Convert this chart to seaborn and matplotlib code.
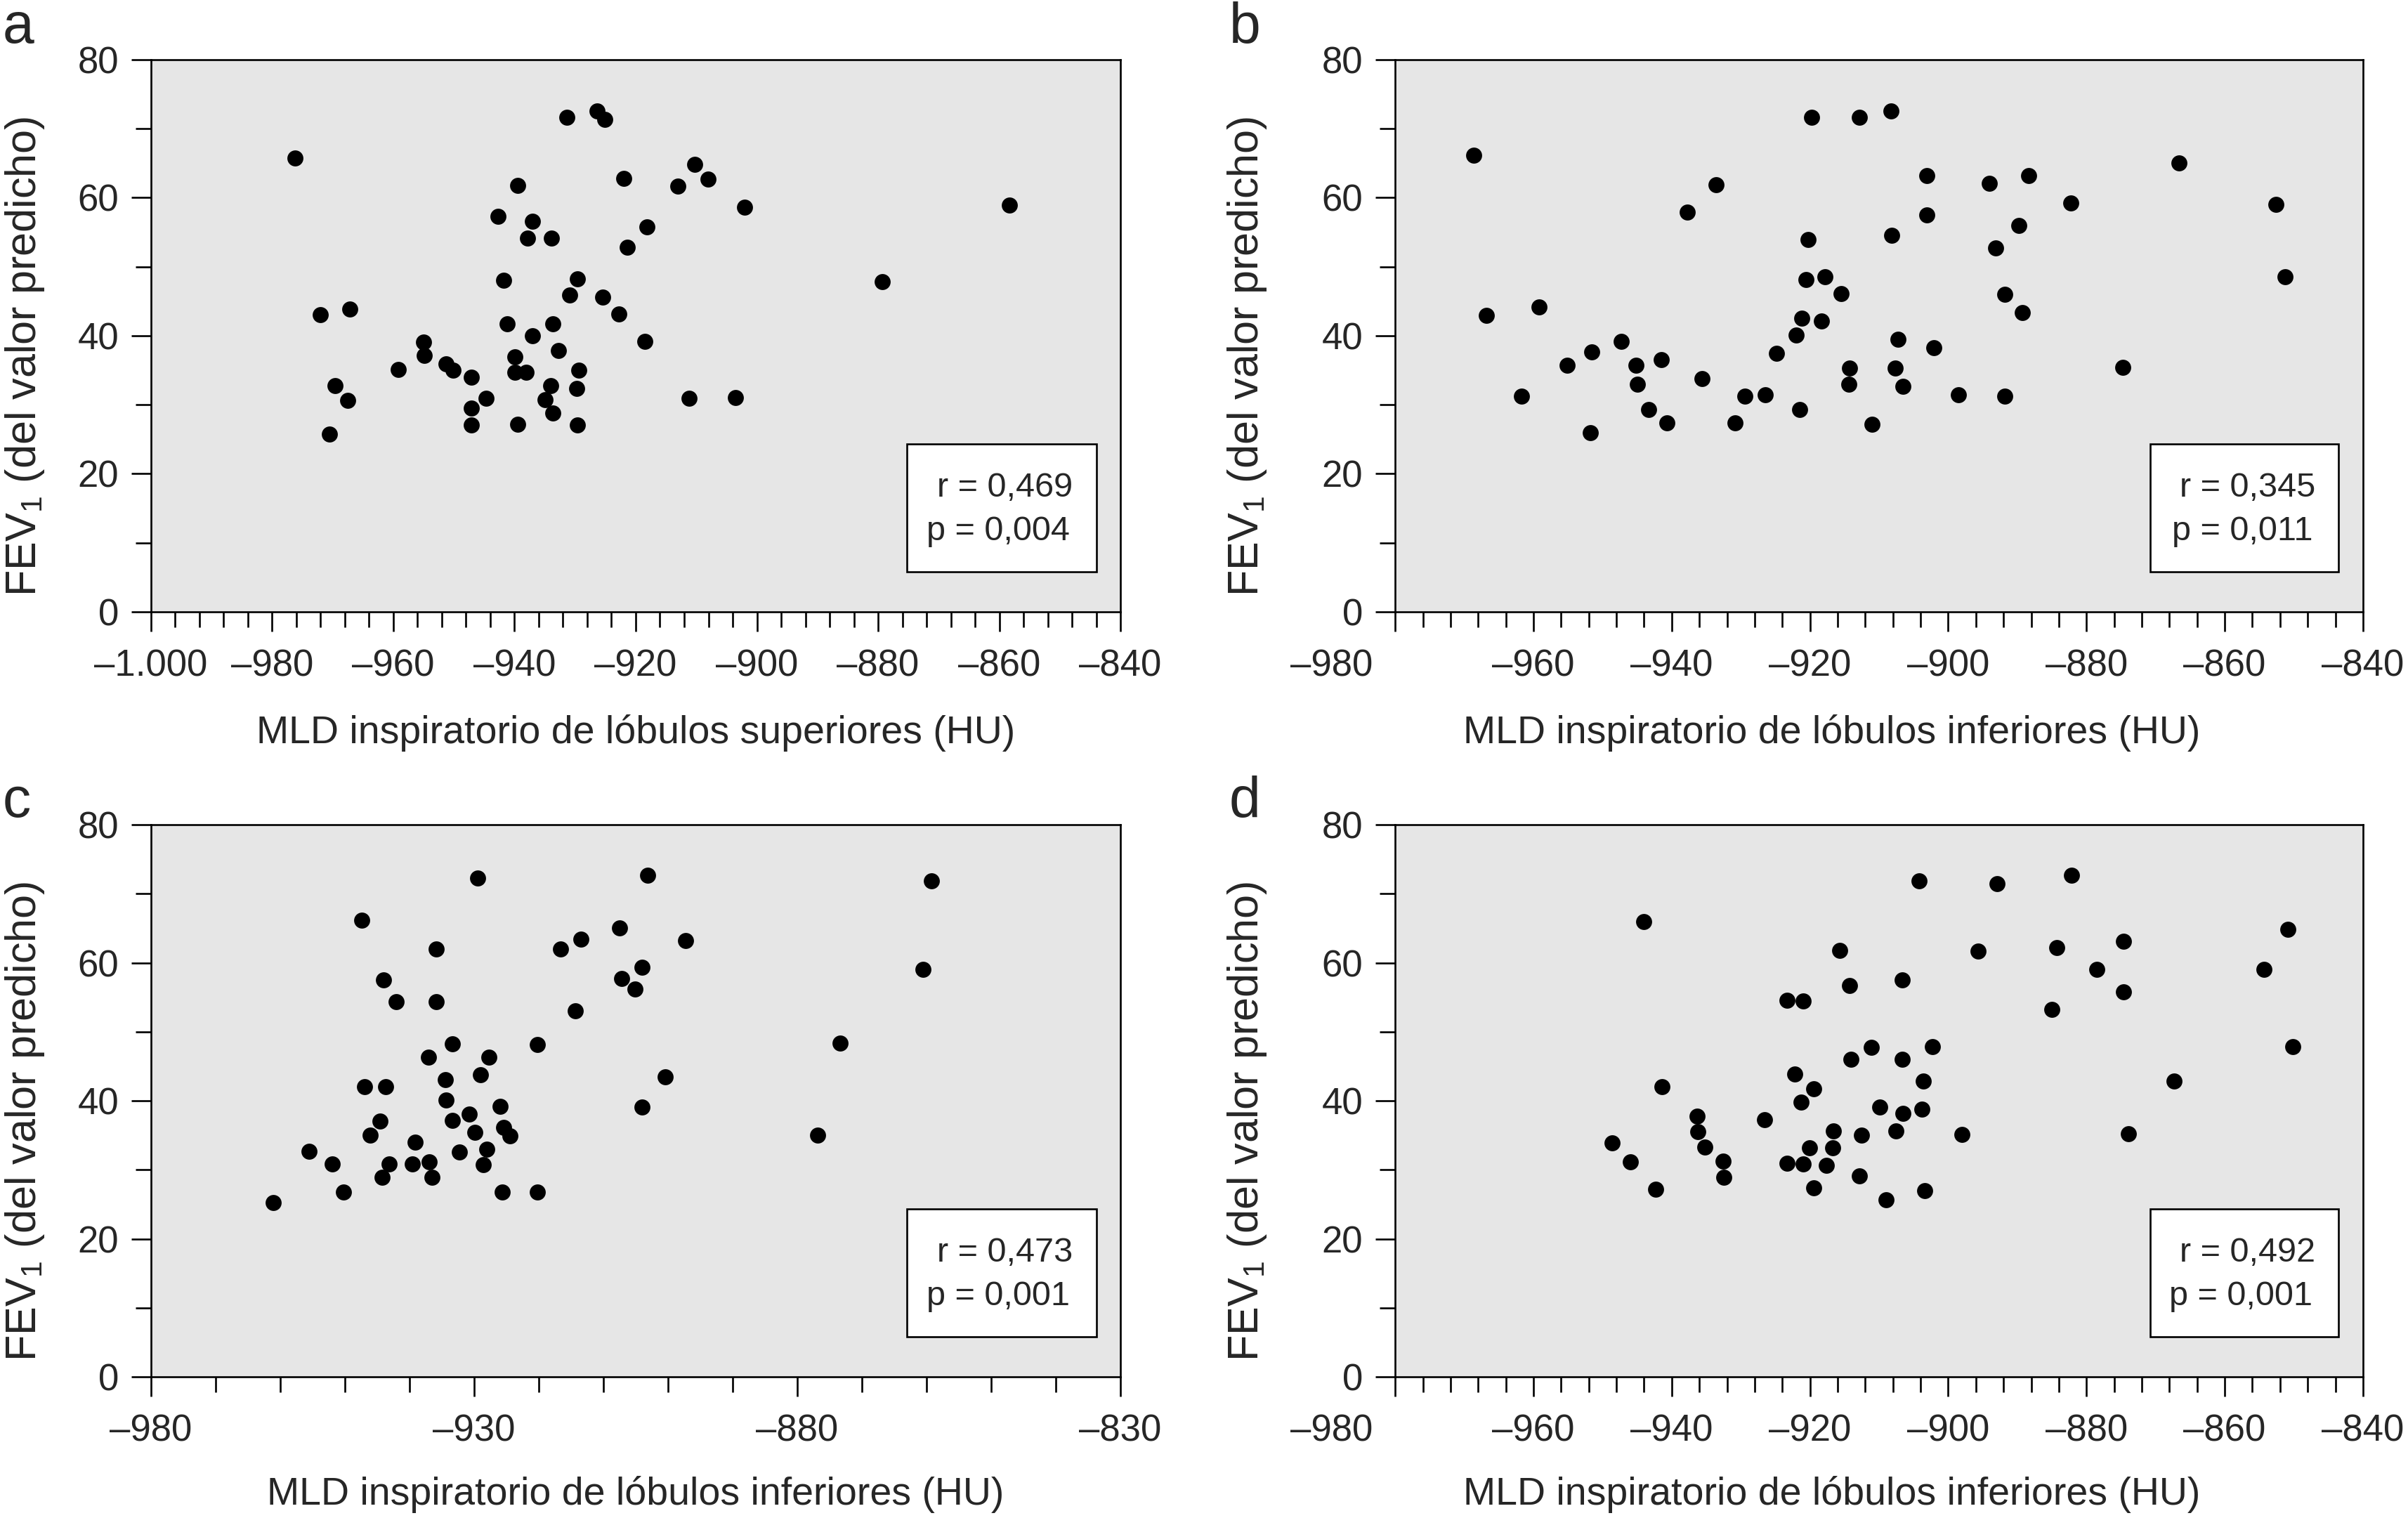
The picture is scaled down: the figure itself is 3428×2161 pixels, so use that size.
import matplotlib
matplotlib.use("Agg")
import matplotlib.pyplot as plt
import seaborn as sns
from matplotlib.patches import Rectangle
from matplotlib.ticker import FixedLocator, MultipleLocator

# ================= DATA =================
# a: upper lobes
A_MLD = [-976.2, -931.4, -926.4, -925.1, -939.5, -922.0, -910.3, -908.1, -913.1, -902.0,
         -858.3, -942.7, -937.0, -937.9, -933.9, -918.2, -921.4, -941.8, -929.6, -879.3,
         -930.9, -925.5, -972.1, -967.2, -922.8, -941.2, -933.7, -937.0, -955.0, -918.5,
         -954.9, -939.9, -932.7, -951.3, -950.1, -959.2, -947.1, -939.9, -938.1, -929.4,
         -969.6, -934.0, -929.7, -967.5, -944.7, -935.0, -911.2, -903.5, -947.1, -933.7,
         -947.1, -939.5, -929.6, -970.6]
A_FEV1 = [65.7, 71.6, 72.6, 71.3, 61.8, 62.8, 64.8, 62.7, 61.7, 58.6,
          58.9, 57.3, 56.6, 54.1, 54.1, 55.8, 52.8, 48.0, 48.2, 47.8,
          45.9, 45.6, 43.0, 43.9, 43.1, 41.7, 41.7, 40.0, 39.1, 39.2,
          37.1, 36.9, 37.9, 35.9, 35.0, 35.1, 34.0, 34.7, 34.7, 35.0,
          32.8, 32.8, 32.4, 30.6, 30.9, 30.7, 30.9, 31.0, 29.5, 28.8,
          27.1, 27.2, 27.1, 25.7]

# b: lower lobes
B_MLD = [-968.6, -966.8, -959.2, -961.7, -955.1, -951.6, -951.8, -947.3, -945.2, -945.0,
         -941.5, -943.3, -940.7, -937.7, -933.6, -935.6, -930.8, -929.4, -926.5, -924.8,
         -922.0, -921.2, -921.5, -920.6, -920.3, -919.8, -918.3, -917.8, -915.5, -914.3,
         -914.4, -912.9, -911.0, -908.3, -908.2, -907.3, -907.7, -906.5, -903.1, -903.1,
         -902.1, -898.5, -894.0, -893.1, -891.8, -891.8, -889.8, -888.4, -889.3, -882.3,
         -874.7, -866.6, -852.6, -851.3]
B_FEV1 = [66.1, 42.9, 44.2, 31.2, 35.7, 37.6, 25.9, 39.2, 35.7, 33.0,
          36.5, 29.3, 27.4, 57.9, 61.9, 33.8, 27.4, 31.2, 31.4, 37.4,
          40.1, 42.5, 29.3, 48.1, 53.9, 71.6, 42.1, 48.5, 46.1, 35.3,
          33.0, 71.6, 27.2, 72.6, 54.5, 39.5, 35.3, 32.7, 63.2, 57.5,
          38.3, 31.4, 62.1, 52.7, 46.0, 31.2, 56.0, 63.2, 43.4, 59.2,
          35.4, 65.0, 59.0, 48.5]

# c: lower lobes
C_MLD = [-961.1, -955.5, -952.0, -950.2, -947.4, -946.9, -943.7, -944.6, -946.1, -944.0,
         -942.1, -943.1, -944.2, -939.6, -939.1, -936.9, -936.5, -937.1, -935.9, -935.9,
         -934.5, -934.3, -933.4, -933.4, -932.3, -930.8, -929.9, -929.4, -929.0, -927.7,
         -928.0, -928.6, -926.0, -925.4, -924.4, -925.7, -920.2, -920.2, -916.6, -913.5,
         -914.4, -907.5, -907.2, -905.1, -904.0, -903.2, -904.0, -900.4, -897.3, -876.9,
         -873.4, -860.6, -859.2]
C_FEV1 = [25.2, 32.7, 30.8, 26.8, 66.2, 42.0, 42.0, 37.1, 35.0, 57.5,
          54.4, 30.8, 28.9, 30.8, 34.0, 31.1, 28.9, 46.3, 62.0, 54.4,
          43.1, 40.1, 48.2, 37.2, 32.6, 38.1, 35.4, 72.3, 43.8, 46.3,
          33.0, 30.7, 39.2, 36.1, 34.9, 26.8, 48.1, 26.8, 62.0, 63.4,
          53.0, 65.0, 57.7, 56.2, 59.3, 72.7, 39.1, 43.5, 63.2, 35.0,
          48.4, 59.0, 71.9]

# d: lower lobes
D_MLD = [-948.6, -946.0, -944.0, -942.3, -941.4, -936.3, -936.2, -935.2, -932.6, -932.5,
         -926.6, -923.3, -921.0, -923.3, -921.0, -922.2, -921.3, -920.1, -919.5, -919.5,
         -917.6, -916.6, -916.7, -915.7, -914.3, -914.1, -912.8, -912.5, -911.1, -909.9,
         -909.0, -907.6, -906.7, -906.6, -906.5, -904.2, -903.8, -903.6, -903.4, -902.3,
         -898.0, -895.7, -892.9, -885.0, -884.3, -882.2, -878.5, -874.6, -874.6, -873.9,
         -867.3, -854.3, -850.9, -850.2]
D_FEV1 = [33.9, 31.2, 66.0, 27.2, 42.0, 37.8, 35.5, 33.3, 31.3, 28.9,
          37.3, 54.6, 54.5, 30.9, 30.8, 43.9, 39.8, 33.2, 41.7, 27.4,
          30.6, 35.6, 33.2, 61.8, 56.7, 46.0, 29.1, 35.0, 47.7, 39.1,
          25.7, 35.6, 57.5, 46.0, 38.2, 71.9, 38.8, 42.9, 27.0, 47.8,
          35.1, 61.7, 71.5, 53.2, 62.2, 72.7, 59.0, 63.1, 55.8, 35.2,
          42.9, 59.0, 64.8, 47.8]

PANEL_LETTERS = ["a", "b", "c", "d"]
X_LABELS = [
    "MLD inspiratorio de lóbulos superiores (HU)",
    "MLD inspiratorio de lóbulos inferiores (HU)",
    "MLD inspiratorio de lóbulos inferiores (HU)",
    "MLD inspiratorio de lóbulos inferiores (HU)",
]
Y_LABEL = r"FEV$_1$ (del valor predicho)"
R_TEXT = ["r = 0,469", "r = 0,345", "r = 0,473", "r = 0,492"]
P_TEXT = ["p = 0,004", "p = 0,011", "p = 0,001", "p = 0,001"]

X_TICKS = [
    [-1000, -980, -960, -940, -920, -900, -880, -860, -840],
    [-980, -960, -940, -920, -900, -880, -860, -840],
    [-980, -930, -880, -830],
    [-980, -960, -940, -920, -900, -880, -860, -840],
]
X_TICK_LABELS = [
    ["–1.000", "–980", "–960", "–940", "–920", "–900", "–880", "–860", "–840"],
    ["", "–960", "–940", "–920", "–900", "–880", "–860", "–840"],
    ["–980", "–930", "–880", "–830"],
    ["", "–960", "–940", "–920", "–900", "–880", "–860", "–840"],
]
X_MINOR = [4, 4, 10, 4]
Y_TICKS = [0, 20, 40, 60, 80]
# ==============================================================

sns.set_style("ticks")
plt.rcParams["font.family"] = ["Liberation Sans", "DejaVu Sans"]
plt.rcParams["mathtext.default"] = "regular"

LW = 1.9
fig = plt.figure(figsize=(34.28, 21.61), dpi=100)

positions = [
    [0.0627, 0.5970, 0.4026, 0.3637],
    [0.5794, 0.5970, 0.4019, 0.3637],
    [0.0627, 0.0930, 0.4026, 0.3637],
    [0.5794, 0.0930, 0.4019, 0.3637],
]
data = [(A_MLD, A_FEV1), (B_MLD, B_FEV1), (C_MLD, C_FEV1), (D_MLD, D_FEV1)]
letter_pos = [(0.001, 0.972), (0.5105, 0.972), (0.001, 0.462), (0.5105, 0.462)]
ylabel_x = [-0.108, -0.131, -0.108, -0.131]
xlabel_x = [0.5, 0.451, 0.5, 0.451]
xlabel_y = [-0.186, -0.186, -0.180, -0.180]

for i in range(4):
    ax = fig.add_axes(positions[i])
    mld, fev1 = data[i]
    sns.scatterplot(x=mld, y=fev1, ax=ax, color="black", s=270,
                    linewidth=0, legend=False, zorder=2)
    ax.set_facecolor("#e6e6e6")

    ticks = X_TICKS[i]
    ax.set_xlim(ticks[0], ticks[-1])
    ax.set_ylim(0, 80)
    ax.xaxis.set_major_locator(FixedLocator(ticks))
    ax.set_xticklabels(X_TICK_LABELS[i])
    ax.xaxis.set_minor_locator(MultipleLocator(X_MINOR[i]))
    ax.yaxis.set_major_locator(FixedLocator(Y_TICKS))
    ax.set_yticklabels([str(t) for t in Y_TICKS])
    ax.yaxis.set_minor_locator(MultipleLocator(10))

    for sp in ax.spines.values():
        sp.set_visible(True)
        sp.set_linewidth(LW)
        sp.set_color("black")

    ax.tick_params(axis="both", which="major", direction="out", length=20,
                   width=LW, labelsize=38, color="black")
    ax.tick_params(axis="both", which="minor", direction="out", length=16,
                   width=LW, color="black")
    ax.tick_params(axis="x", which="major", pad=18)
    ax.tick_params(axis="y", which="major", pad=13)

    # left-most label in panels b and d sits left of its tick
    if X_TICK_LABELS[i][0] == "":
        ax.annotate("–980", xy=(ticks[0], 0), xycoords="data",
                    xytext=(-65, -38), textcoords="offset points",
                    ha="center", va="top", fontsize=38, annotation_clip=False)

    ax.set_xlabel(X_LABELS[i], fontsize=40)
    ax.xaxis.set_label_coords(xlabel_x[i], xlabel_y[i])
    ax.set_ylabel(Y_LABEL, fontsize=44)
    ax.yaxis.set_label_coords(ylabel_x[i], 0.462)

    ax.add_patch(Rectangle((0.780, 0.072), 0.195, 0.232, transform=ax.transAxes,
                           facecolor="white", edgecolor="black", linewidth=LW,
                           zorder=3))
    ax.text(0.951, 0.209, R_TEXT[i], transform=ax.transAxes, ha="right",
            va="baseline", fontsize=35, zorder=4)
    ax.text(0.948, 0.130, P_TEXT[i], transform=ax.transAxes, ha="right",
            va="baseline", fontsize=35, zorder=4)

    fig.text(letter_pos[i][0], letter_pos[i][1], PANEL_LETTERS[i],
             fontsize=58, va="baseline", ha="left")

fig.savefig("out.png", dpi=100)
plt.close(fig)
